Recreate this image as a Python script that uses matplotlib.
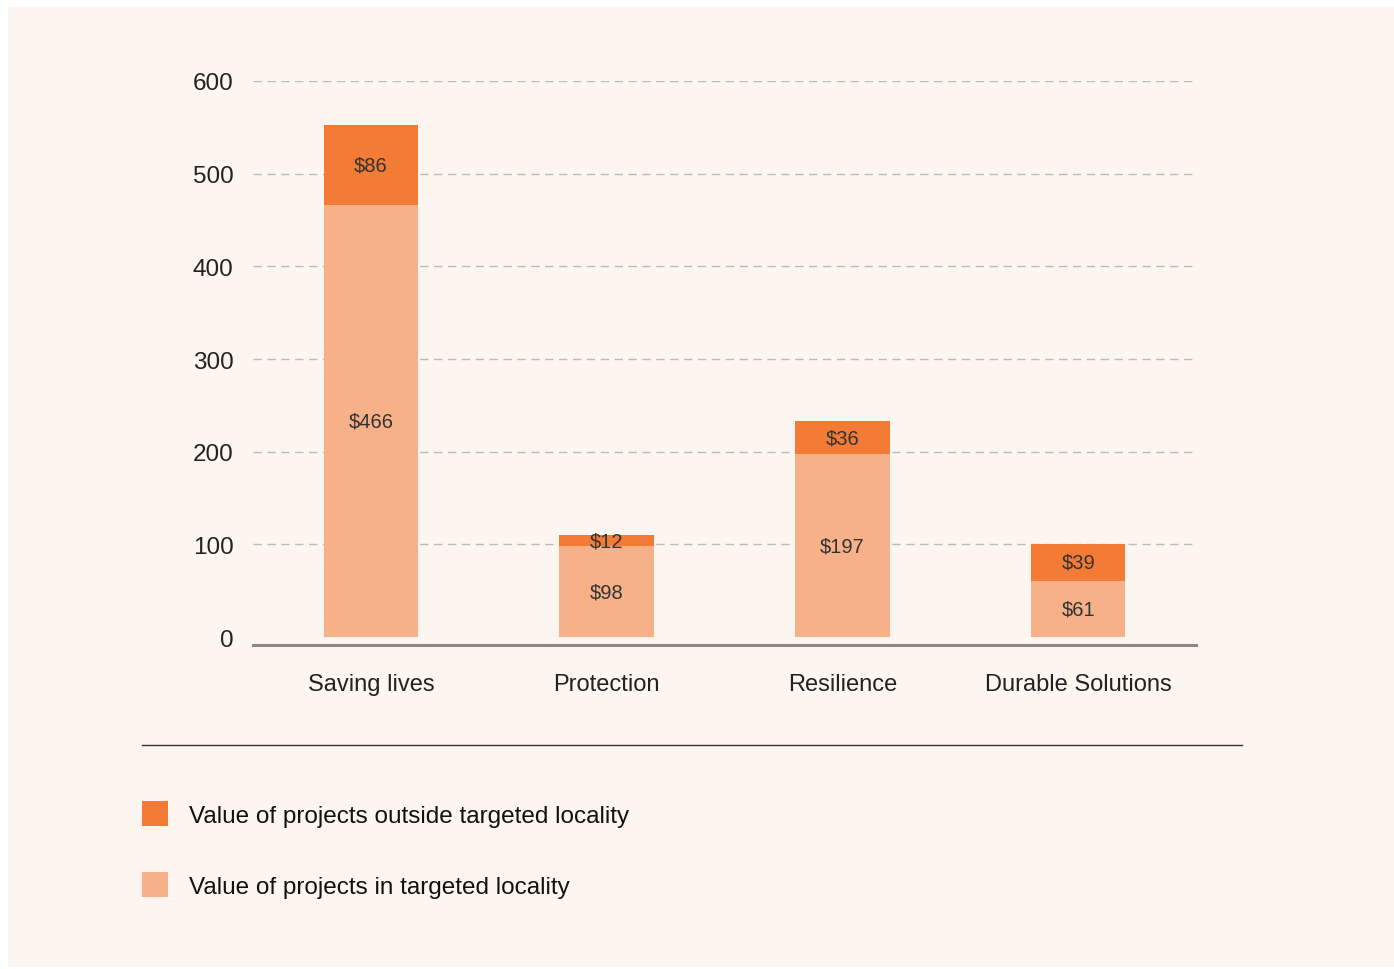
import matplotlib.pyplot as plt
import numpy as np
from matplotlib.patches import Rectangle
from matplotlib.lines import Line2D

plt.rcParams['font.family'] = ['Liberation Sans', 'DejaVu Sans']

categories = ["Saving lives", "Protection", "Resilience", "Durable Solutions"]
in_locality = [466, 98, 197, 61]
outside_locality = [86, 12, 36, 39]
yticks = [0, 100, 200, 300, 400, 500, 600]

dark = "#F47B35"
light = "#F7B189"
bg = "#FDF5EF"

fig = plt.figure(figsize=(13.94, 9.70), dpi=100)
fig.patch.set_facecolor("white")
fig.add_artist(Rectangle((8 / 1394, 2 / 970), 1386 / 1394, 960 / 970,
                         transform=fig.transFigure, facecolor=bg,
                         edgecolor="none", zorder=0))

ax = fig.add_axes([253 / 1394, 1 - 646 / 970, 943 / 1394, 564 / 970])
ax.set_facecolor("none")

x = np.arange(len(categories))
b1 = ax.bar(x, in_locality, width=0.4, color=light, zorder=2,
            label="Value of projects in targeted locality")
b2 = ax.bar(x, outside_locality, width=0.4, bottom=in_locality, color=dark,
            zorder=2, label="Value of projects outside targeted locality")

for i in range(len(categories)):
    ax.text(x[i], in_locality[i] / 2, "$%d" % in_locality[i], ha="center",
            va="center", fontsize=14.5, color="#333333", zorder=3)
    ax.text(x[i], in_locality[i] + outside_locality[i] / 2,
            "$%d" % outside_locality[i], ha="center", va="center",
            fontsize=14.5, color="#333333", zorder=3)

ax.set_xlim(-0.5, len(categories) - 0.5)
ax.set_ylim(-8.6, 600)
ax.set_yticks(yticks)
ax.set_xticks(x)
ax.set_xticklabels(categories)
ax.yaxis.grid(True, color="#BBBBBB", linestyle=(0, (6, 4)), linewidth=1)
ax.get_ygridlines()[0].set_visible(False)
ax.set_axisbelow(True)
ax.tick_params(axis="y", length=0, pad=14, labelsize=17.5, labelcolor="#222222")
ax.tick_params(axis="x", length=0, pad=20, labelsize=17, labelcolor="#222222")
for s in ["top", "right", "left"]:
    ax.spines[s].set_visible(False)
ax.spines["bottom"].set_color("#888888")
ax.spines["bottom"].set_linewidth(2.2)

fig.add_artist(Line2D([142 / 1394, 1242 / 1394], [1 - 746 / 970] * 2,
                      color="#333333", linewidth=1))

fig.legend(handles=[b2, b1], loc="upper left",
           bbox_to_anchor=(120 / 1394, 1 - 780 / 970), frameon=False,
           fontsize=17.5, handlelength=1.07, handleheight=1.2,
           handletextpad=0.85, labelspacing=1.87, labelcolor="#111111")

fig.savefig("out.png", dpi=100, facecolor=fig.get_facecolor())
